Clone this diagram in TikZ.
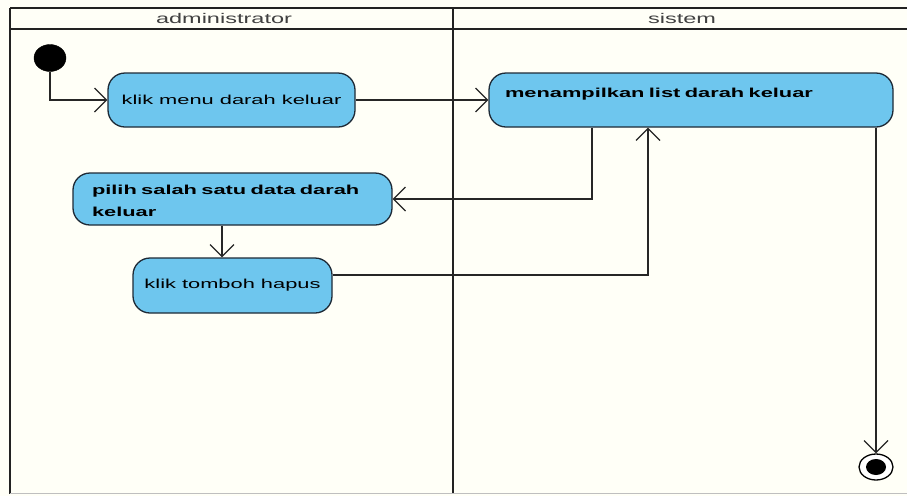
\documentclass[tikz,border=0pt]{standalone}
\usepackage{fontspec}
\setmainfont{Liberation Sans}[FakeStretch=1.68]
\usetikzlibrary{arrows.meta,shapes.geometric}
\definecolor{actfill}{HTML}{6EC6EE}
\definecolor{actline}{HTML}{1E2A36}
\definecolor{frameline}{HTML}{222222}
\begin{document}
\begin{tikzpicture}[x=1pt,y=-1pt,
  every node/.style={font=\fontsize{13}{22}\selectfont},
  action/.style={draw=actline,line width=1.3pt,fill=actfill,rounded corners=17pt,
    inner sep=0pt},
  lane/.style={draw=frameline,line width=2.6pt},
  flow/.style={draw=black!85,line width=1.4pt,
    -{Straight Barb[length=12pt,width=24pt,line width=1.2pt]}},
  lanetitle/.style={text=black!75,font=\fontsize{14}{16}\selectfont}]
\useasboundingbox (0,0) rectangle (907,496);
\fill[white!97!yellow] (0,0) rectangle (907,496);

% swimlane frame
\draw[lane] (10,8) -- (907,8);
\draw[lane] (10,29) -- (907,29);
\draw[lane] (10,8) -- (10,494);
\draw[lane] (453,8) -- (453,494);
\draw[black!25,line width=1pt] (10,493) -- (907,493);
\node[lanetitle] (t1) at (224,18) {administrator};
\node[lanetitle] (t2) at (682,18) {sistem};

% start and end
\node[ellipse,fill=black,minimum width=32pt,minimum height=27pt,inner sep=0pt,
  draw=black] (start) at (50,58) {};
\node[ellipse,draw=black,line width=1.3pt,minimum width=34pt,minimum height=26pt,
  inner sep=0pt,fill=white] (stop) at (876,467) {};
\node[ellipse,fill=black,minimum width=20pt,minimum height=16pt,inner sep=0pt]
  (stopdot) at (876,467) {};

% activities
\node[action,minimum width=247pt,minimum height=54pt] (b1) at (231.5,100)
  {klik menu darah keluar};
\node[action,minimum width=404pt,minimum height=54pt,align=left,text width=372pt,
  text height=10pt,text depth=15pt,font=\fontsize{13}{22}\selectfont\bfseries]
  (b2) at (691,100) {menampilkan list darah keluar};
\node[action,minimum width=319pt,minimum height=52pt,align=left,text width=281pt,
  text height=14pt,font=\fontsize{13}{22}\selectfont\bfseries]
  (b3) at (232.5,199) {pilih salah satu data darah\\keluar};
\node[action,minimum width=199pt,minimum height=55pt] (b4) at (232.5,285.5)
  {klik tomboh hapus};

% routing points
\coordinate (c1) at (592,198);
\coordinate (c2) at (648,275);
\coordinate (c3) at (222,0);
\coordinate (c4) at (876,0);

% control flow
\draw[flow] (start.south) |- (b1.west);
\draw[flow] (b1.east) -- (b1.east -| b2.west);
\draw[flow] (b2.south -| c1) |- (b3.east);
\draw[flow] (b3.south -| c3) -- (b4.north -| c3);
\draw[flow] (b4.east |- c2) -| (b2.south -| c2);
\draw[flow] (b2.south -| c4) -- (stop.north);
\end{tikzpicture}
\end{document}
